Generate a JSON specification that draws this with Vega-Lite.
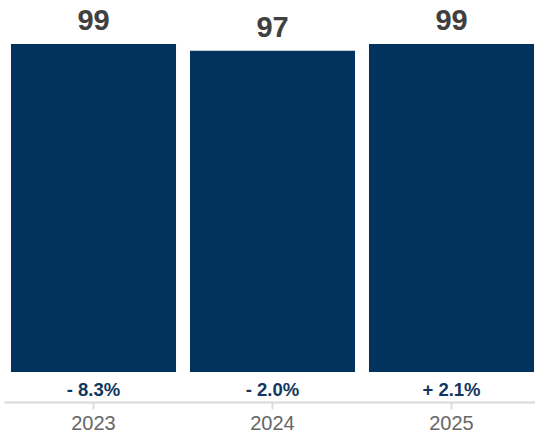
{
  "$schema": "https://vega.github.io/schema/vega-lite/v6.json",
  "autosize": "none",
  "width": 531,
  "height": 402,
  "padding": {"left": 4, "top": 0, "right": 0, "bottom": 36},
  "background": "white",
  "config": {"view": {"stroke": null}, "font": "Liberation Sans"},
  "data": {"values": [
    {"year": "2023", "value": 99, "change": "- 8.3%"},
    {"year": "2024", "value": 97, "change": "- 2.0%"},
    {"year": "2025", "value": 99, "change": "+ 2.1%"}
  ]},
  "encoding": {
    "x": {
      "field": "year", "type": "ordinal", "title": null,
      "scale": {"range": [0, 537], "paddingInner": 0.078, "paddingOuter": 0.039},
      "axis": {
        "labelAngle": 0, "labelFont": "Liberation Sans", "labelFontSize": 20,
        "labelColor": "#666666", "labelPadding": 4,
        "domainColor": "#d9d9d9", "domainWidth": 2,
        "tickColor": "#dddddd", "tickSize": 7, "tickWidth": 2, "grid": false
      }
    }
  },
  "layer": [
    {
      "mark": {"type": "bar", "color": "#02335f"},
      "encoding": {
        "y": {"field": "value", "type": "quantitative", "axis": null,
              "scale": {"domain": [-9.05, 112.28], "nice": false, "zero": false}},
        "y2": {"datum": 0}
      }
    },
    {
      "mark": {"type": "text", "baseline": "alphabetic", "dy": -14, "fontSize": 29,
               "fontWeight": "bold", "color": "#404040", "font": "Liberation Sans"},
      "encoding": {
        "y": {"field": "value", "type": "quantitative"},
        "text": {"field": "value", "type": "quantitative"}
      }
    },
    {
      "mark": {"type": "text", "baseline": "alphabetic", "dy": 24, "fontSize": 18.5,
               "fontWeight": "bold", "color": "#12365e", "font": "Liberation Sans"},
      "encoding": {
        "y": {"datum": 0},
        "text": {"field": "change", "type": "nominal"}
      }
    }
  ]
}
